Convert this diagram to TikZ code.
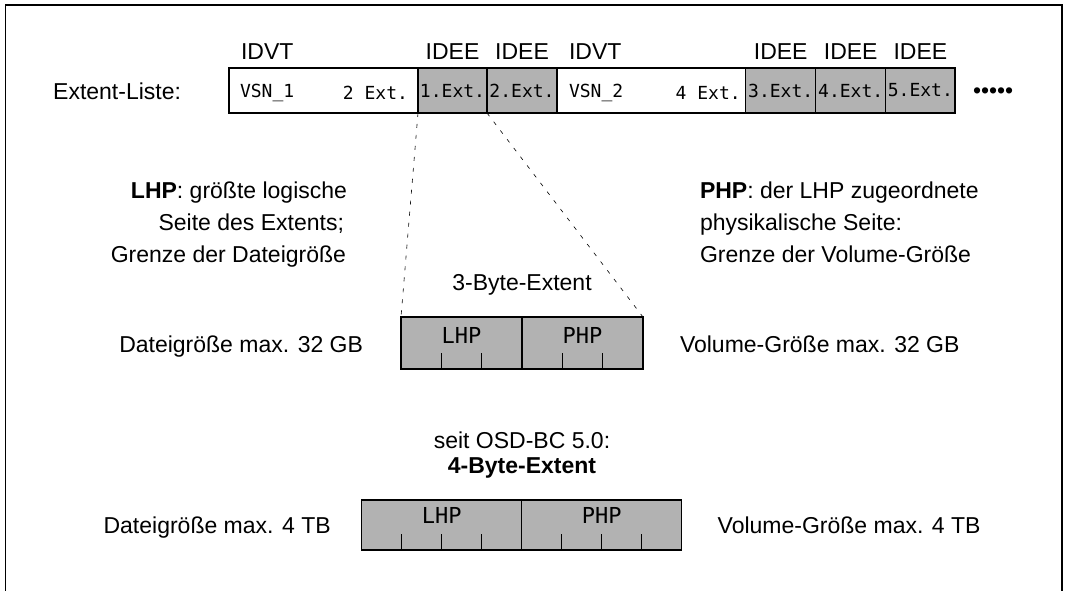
\documentclass[tikz,border=0pt]{standalone}
\usepackage{fontspec}
\setmainfont{Liberation Sans}
\newfontfamily\monofont{DejaVu Sans Mono}
\usetikzlibrary{calc}
\begin{document}
\begin{tikzpicture}[x=1pt,y=-1pt,
  every node/.style={inner sep=0pt, outer sep=0pt},
  txt/.style={font=\fontsize{23}{28}\selectfont},
  mono/.style={font=\monofont\fontsize{18}{21}\selectfont},
  monobig/.style={font=\monofont\fontsize{22}{25}\selectfont},
  cellw/.style={draw, line width=1.1pt, minimum height=45pt, anchor=north west, mono},
  cellg/.style={cellw, fill=gray!60},
  half/.style={draw, line width=1.1pt, fill=gray!60, anchor=north west},
  conn/.style={line width=0.6pt, dash pattern=on 4pt off 7pt},
  tick/.style={line width=1pt},
]
\useasboundingbox (0,0) rectangle (1066,591);
% frame (open at bottom)
\coordinate (fbl) at (5.5,591);
\coordinate (ftl) at (5.5,5);
\coordinate (ftr) at (1062,5);
\coordinate (fbr) at (1062,591);
\draw[line width=1.3pt] (fbl) -- (ftl) -- (ftr) -- (fbr);

% extent list row
\node[txt, anchor=base east] (el) at (181,100) {Extent-Liste:};
\node[cellw, minimum width=189pt] (vsn1) at (229,68) {};
\node[cellg, minimum width=69pt] (e1) at (418,68) {1.Ext.};
\node[cellg, minimum width=70pt] (e2) at (487,68) {2.Ext.};
\node[cellw, minimum width=188.7pt] (vsn2) at (557,68) {};
\node[cellg, minimum width=70pt] (e3) at (745.7,68) {3.Ext.};
\node[cellg, minimum width=70pt] (e4) at (815.7,68) {4.Ext.};
\node[cellg, minimum width=69.3pt] (e5) at (885.7,68) {5.Ext.};
\node[mono, anchor=west] (v1a) at ($(vsn1.west)+(11,2)$) {VSN\_1};
\node[mono, anchor=east] (v1b) at ($(vsn1.east)+(-10,2)$) {2 Ext.};
\node[mono, anchor=west] (v2a) at ($(vsn2.west)+(12,2)$) {VSN\_2};
\node[mono, anchor=east] (v2b) at ($(vsn2.east)+(-5,2)$) {4 Ext.};
\node[txt, anchor=west] (dots) at (973,93) {•••••};

% labels above
\node[txt, anchor=base west] (id1) at (241,60) {IDVT};
\node[txt, anchor=base] (id2) at ($(e1.north)+(0,-8)$) {IDEE};
\node[txt, anchor=base] (id3) at ($(e2.north)+(0,-8)$) {IDEE};
\node[txt, anchor=base west] (id4) at (569,60) {IDVT};
\node[txt, anchor=base] (id5) at ($(e3.north)+(0,-8)$) {IDEE};
\node[txt, anchor=base] (id6) at ($(e4.north)+(0,-8)$) {IDEE};
\node[txt, anchor=base] (id7) at ($(e5.north)+(0,-8)$) {IDEE};

% explanation blocks
\node[txt, anchor=base east] (lhp1) at (347,199) {\textbf{LHP}: größte logische};
\node[txt, anchor=base east] (lhp2) at (344,230) {Seite des Extents;};
\node[txt, anchor=base east] (lhp3) at (346,262) {Grenze der Dateigröße};
\node[txt, anchor=base west] (php1) at (700,199) {\textbf{PHP}: der LHP zugeordnete};
\node[txt, anchor=base west] (php2) at (700,230) {physikalische Seite:};
\node[txt, anchor=base west] (php3) at (700,262) {Grenze der Volume-Größe};

% 3-byte extent
\node[txt, anchor=base] (t3) at (522,290) {3-Byte-Extent};
\node[half, minimum width=121pt, minimum height=52pt] (b3l) at (401,317) {};
\node[half, minimum width=121pt, minimum height=52pt] (b3r) at (522,317) {};
\node[monobig, anchor=base] (b3lt) at ($(b3l.north)+(0,26)$) {LHP};
\node[monobig, anchor=base] (b3rt) at ($(b3r.north)+(0,26)$) {PHP};
\foreach \f in {1/3,2/3}{
  \draw[tick] ($(b3l.south west)!\f!(b3l.south east)$) -- ++(0,-16);
  \draw[tick] ($(b3r.south west)!\f!(b3r.south east)$) -- ++(0,-16);
}
\node[txt, anchor=base east] (d3) at ($(b3l.south west)+(-38,-17)$) {Dateigröße max. 32 GB};
\node[txt, anchor=base west] (vg3) at ($(b3r.south east)+(37,-17)$) {Volume-Größe max. 32 GB};

% dashed connectors
\draw[conn] (e1.south west) -- (b3l.north west);
\draw[conn] (e1.south east) -- (b3r.north east);

% 4-byte extent
\node[txt, anchor=base] (s4) at (522,448) {seit OSD-BC 5.0:};
\node[txt, anchor=base, font=\fontsize{23}{28}\selectfont\bfseries] (t4) at (522,473) {4-Byte-Extent};
\node[half, minimum width=160pt, minimum height=50pt] (b4l) at (361.7,500) {};
\node[half, minimum width=160pt, minimum height=50pt] (b4r) at (521.7,500) {};
\node[monobig, anchor=base] (b4lt) at ($(b4l.north)+(0,23)$) {LHP};
\node[monobig, anchor=base] (b4rt) at ($(b4r.north)+(0,23)$) {PHP};
\foreach \f in {1/4,2/4,3/4}{
  \draw[tick] ($(b4l.south west)!\f!(b4l.south east)$) -- ++(0,-16);
  \draw[tick] ($(b4r.south west)!\f!(b4r.south east)$) -- ++(0,-16);
}
\node[txt, anchor=base east] (d4) at ($(b4l.south west)+(-31,-17)$) {Dateigröße max. 4 TB};
\node[txt, anchor=base west] (vg4) at ($(b4r.south east)+(36,-17)$) {Volume-Größe max. 4 TB};
\end{tikzpicture}
\end{document}
